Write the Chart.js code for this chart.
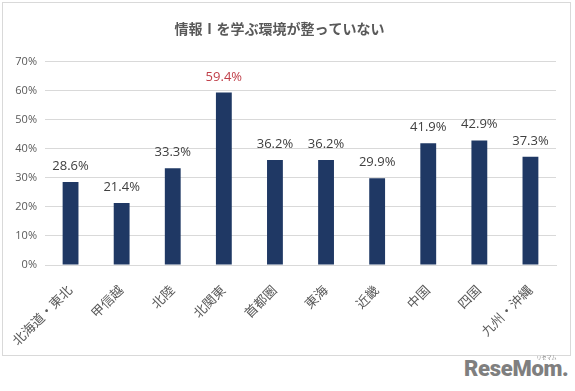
<!DOCTYPE html>
<html>
<head>
<meta charset="utf-8">
<script src="https://cdn.jsdelivr.net/npm/chart.js@4/dist/chart.umd.min.js"></script>
<style>
  body { margin: 0; background: #fff; width: 575px; height: 391px; position: relative; overflow: hidden; }
  #box { position: absolute; left: 2px; top: 2px; width: 567px; height: 352px; border: 1px solid #d9d9d9; }
  #logo { position: absolute; left: 464px; top: 356px; font: 900 22px 'Roboto', 'DejaVu Sans', sans-serif; color: #7f7f7f; letter-spacing: -0.3px; }
  #logo small { position: absolute; right: 12px; top: -3px; font-size: 5px; font-weight: normal; letter-spacing: 0; font-family: 'Noto Sans CJK JP'; }
</style>
</head>
<body>
<div id="box"><canvas id="myChart" width="567" height="352"></canvas></div>
<div id="logo">ReseMom.<small>リセマム</small></div>
<script>
let labels = ['北海道・東北', '甲信越', '北陸', '北関東', '首都圏', '東海', '近畿', '中国', '四国', '九州・沖縄'];
let values = [28.6, 21.4, 33.3, 59.4, 36.2, 36.2, 29.9, 41.9, 42.9, 37.3];
let labelColors = ['#404040', '#404040', '#404040', '#c0404a', '#404040', '#404040', '#404040', '#404040', '#404040', '#404040'];
let yTicks = [0, 10, 20, 30, 40, 50, 60, 70];

let fontFamily = "'Open Sans', 'Noto Sans CJK JP', sans-serif";

// draws the value above each bar
let valueLabels = {
    id: 'valueLabels',
    afterDatasetsDraw(chart) {
        let ctx = chart.ctx;
        let meta = chart.getDatasetMeta(0);
        ctx.save();
        ctx.font = '13px ' + fontFamily;
        ctx.textAlign = 'center';
        ctx.textBaseline = 'alphabetic';
        meta.data.forEach((bar, i) => {
            ctx.fillStyle = labelColors[i];
            ctx.fillText(values[i].toFixed(1) + '%', bar.x, bar.y - 12);
        });
        ctx.restore();
    }
};

let myChart = document.getElementById("myChart").getContext('2d');

let chart = new Chart(myChart, {
    type: 'bar',
    data: {
        labels: labels,
        datasets: [ {
            data: values,
            backgroundColor: '#1f3864',
            barPercentage: 0.62,
            categoryPercentage: 0.5
        }]
    },
    plugins: [valueLabels],
    options: {
        responsive: false,
        animation: false,
        layout: { padding: { left: 0, right: 14, top: 0, bottom: 0 } },
        plugins: {
            legend: { display: false },
            tooltip: { enabled: false },
            title: {
                display: true,
                text: '情報Ⅰを学ぶ環境が整っていない',
                color: '#595959',
                font: { family: fontFamily, size: 14, weight: 'bold' },
                padding: { top: 19, bottom: 23 }
            }
        },
        scales: {
            x: {
                grid: { display: false },
                border: { color: '#d9d9d9' },
                ticks: {
                    color: '#595959',
                    font: { family: fontFamily, size: 13 },
                    minRotation: 45,
                    maxRotation: 45,
                    padding: 10
                },
                afterFit(scale) { scale.height = 90; }
            },
            y: {
                min: 0,
                max: 70,
                afterBuildTicks(scale) { scale.ticks = yTicks.map(v => ({ value: v })); },
                grid: { color: '#d9d9d9', drawTicks: false },
                border: { display: false },
                ticks: {
                    color: '#595959',
                    font: { family: fontFamily, size: 11 },
                    padding: 8,
                    callback: v => v + '%'
                },
                afterFit(scale) { scale.width = 42; }
            }
        }
    }
});
</script>
</body>
</html>
